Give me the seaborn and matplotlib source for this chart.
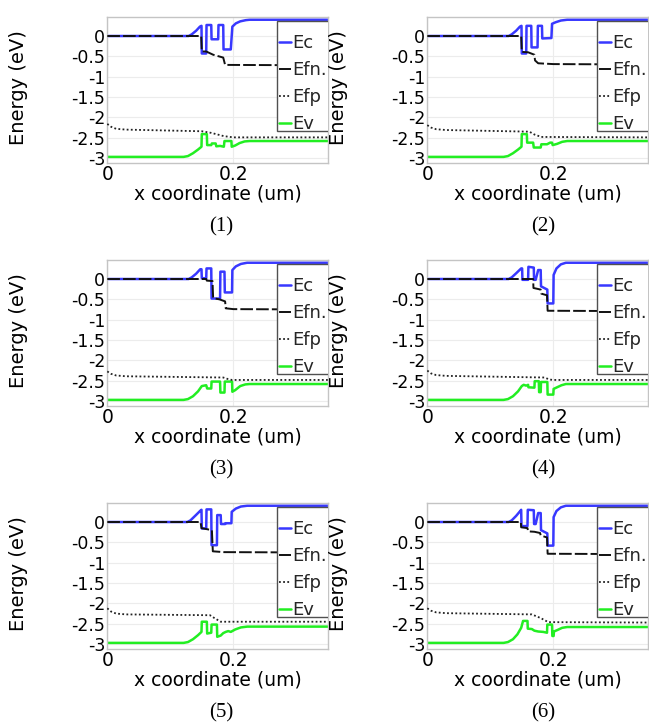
import matplotlib
matplotlib.use("Agg")
import matplotlib.pyplot as plt
from matplotlib.patches import Rectangle
import seaborn as sns

# ---------------- data (x in um, energy in eV) ----------------
LEGEND_LABELS = ["Ec", "Efn.", "Efp", "Ev"]
CAPTIONS = ["(1)", "(2)", "(3)", "(4)", "(5)", "(6)"]
XTICKS = [0, 0.2]
XTICK_LABELS = ["0", "0.2"]
YTICKS = [0, -0.5, -1, -1.5, -2, -2.5, -3]
YTICK_LABELS = ["0", "-0.5", "-1", "-1.5", "-2", "-2.5", "-3"]

EC1 = [(0, 0), (0.129, 0), (0.134, 0.04), (0.141, 0.13), (0.147, 0.23), (0.1495, 0.25), (0.150, -0.43),
       (0.157, -0.43), (0.1575, 0.27), (0.165, 0.27), (0.1655, -0.08), (0.176, -0.08), (0.1765, 0.27),
       (0.184, 0.27), (0.1845, -0.33), (0.196, -0.33), (0.1985, 0.23), (0.204, 0.31), (0.211, 0.36),
       (0.220, 0.39), (0.226, 0.40), (0.35, 0.40)]
EFN1 = [(0, 0), (0.149, 0), (0.150, -0.38), (0.157, -0.38), (0.168, -0.46), (0.184, -0.53), (0.187, -0.71),
        (0.35, -0.72)]
EFP1 = [(0, -2.16), (0.006, -2.23), (0.014, -2.28), (0.03, -2.30), (0.15, -2.34), (0.165, -2.38),
        (0.185, -2.46), (0.20, -2.49), (0.35, -2.49)]
EV1 = [(0, -2.97), (0.121, -2.97), (0.128, -2.95), (0.136, -2.88), (0.144, -2.79), (0.1495, -2.72),
       (0.150, -2.41), (0.158, -2.41), (0.1585, -2.68), (0.165, -2.68), (0.166, -2.64), (0.172, -2.64),
       (0.173, -2.71), (0.179, -2.70), (0.185, -2.72), (0.186, -2.58), (0.197, -2.58), (0.1975, -2.72),
       (0.203, -2.69), (0.210, -2.63), (0.218, -2.59), (0.226, -2.58), (0.35, -2.58)]

EC2 = [(0, 0), (0.129, 0), (0.134, 0.04), (0.141, 0.13), (0.147, 0.23), (0.1495, 0.25), (0.150, -0.43),
       (0.157, -0.43), (0.1575, 0.25), (0.165, 0.25), (0.1655, -0.28), (0.175, -0.28), (0.1755, 0.25),
       (0.182, 0.25), (0.1825, -0.06), (0.197, -0.05), (0.198, 0.30), (0.204, 0.34), (0.212, 0.38),
       (0.222, 0.40), (0.35, 0.40)]
EFN2 = [(0, 0), (0.149, 0), (0.150, -0.39), (0.160, -0.40), (0.170, -0.46), (0.171, -0.60), (0.176, -0.67),
        (0.20, -0.69), (0.35, -0.70)]
EFP2 = [(0, -2.19), (0.006, -2.25), (0.014, -2.29), (0.03, -2.31), (0.162, -2.35), (0.170, -2.42),
        (0.181, -2.48), (0.35, -2.49)]
EV2 = [(0, -2.97), (0.121, -2.97), (0.128, -2.95), (0.136, -2.88), (0.144, -2.79), (0.1495, -2.72),
       (0.150, -2.41), (0.158, -2.41), (0.1585, -2.62), (0.168, -2.62), (0.169, -2.74), (0.180, -2.74),
       (0.181, -2.66), (0.190, -2.66), (0.195, -2.62), (0.198, -2.62), (0.199, -2.68), (0.206, -2.65),
       (0.214, -2.60), (0.222, -2.58), (0.35, -2.58)]

EC3 = [(0, 0), (0.129, 0), (0.134, 0.04), (0.141, 0.13), (0.1475, 0.24), (0.1495, 0.24), (0.150, 0.02),
       (0.157, 0.02), (0.1575, 0.26), (0.165, 0.26), (0.1655, -0.48), (0.179, -0.48), (0.1795, 0.18),
       (0.186, 0.18), (0.1865, -0.33), (0.198, -0.33), (0.1985, 0.22), (0.204, 0.31), (0.212, 0.37),
       (0.222, 0.40), (0.35, 0.40)]
EFN3 = [(0, 0), (0.157, 0), (0.158, -0.04), (0.167, -0.05), (0.168, -0.47), (0.178, -0.50), (0.187, -0.55),
        (0.188, -0.72), (0.20, -0.74), (0.35, -0.75)]
EFP3 = [(0, -2.27), (0.006, -2.33), (0.014, -2.37), (0.03, -2.39), (0.184, -2.42), (0.192, -2.46),
        (0.198, -2.48), (0.35, -2.48)]
EV3 = [(0, -2.97), (0.121, -2.97), (0.128, -2.95), (0.136, -2.88), (0.144, -2.76), (0.150, -2.63),
       (0.157, -2.61), (0.1585, -2.69), (0.165, -2.69), (0.1655, -2.52), (0.179, -2.52), (0.1795, -2.79),
       (0.186, -2.79), (0.1865, -2.52), (0.198, -2.52), (0.1985, -2.77), (0.203, -2.73), (0.211, -2.63),
       (0.219, -2.59), (0.226, -2.58), (0.35, -2.58)]

EC4 = [(0, 0), (0.129, 0), (0.134, 0.04), (0.141, 0.14), (0.149, 0.26), (0.1505, 0.26), (0.151, -0.02),
       (0.160, -0.02), (0.1605, 0.30), (0.169, 0.28), (0.1695, -0.02), (0.172, -0.02), (0.176, 0.22),
       (0.180, 0.22), (0.1805, -0.18), (0.1905, -0.26), (0.191, -0.60), (0.200, -0.60), (0.2005, 0.10),
       (0.205, 0.26), (0.212, 0.36), (0.220, 0.40), (0.35, 0.40)]
EFN4 = [(0, 0), (0.168, 0), (0.1685, -0.22), (0.180, -0.26), (0.181, -0.36), (0.190, -0.40), (0.191, -0.78),
        (0.35, -0.79)]
EFP4 = [(0, -2.25), (0.006, -2.32), (0.014, -2.36), (0.03, -2.38), (0.186, -2.42), (0.194, -2.47),
        (0.200, -2.48), (0.35, -2.48)]
EV4 = [(0, -2.97), (0.121, -2.97), (0.128, -2.95), (0.136, -2.88), (0.144, -2.76), (0.150, -2.63),
       (0.153, -2.60), (0.157, -2.62), (0.160, -2.60), (0.1605, -2.66), (0.170, -2.67), (0.1705, -2.51),
       (0.177, -2.51), (0.1775, -2.78), (0.180, -2.78), (0.1805, -2.53), (0.1905, -2.53), (0.191, -2.84),
       (0.200, -2.84), (0.2005, -2.70), (0.206, -2.66), (0.213, -2.61), (0.220, -2.58), (0.35, -2.58)]

EC5 = [(0, 0), (0.127, 0), (0.132, 0.04), (0.140, 0.16), (0.1485, 0.29), (0.1495, 0.30), (0.150, -0.16),
       (0.157, -0.16), (0.1575, 0.31), (0.165, 0.31), (0.1655, -0.57), (0.174, -0.57), (0.1745, 0.17),
       (0.180, 0.17), (0.1805, -0.05), (0.187, -0.05), (0.1875, -0.03), (0.197, -0.03), (0.1975, 0.25),
       (0.204, 0.33), (0.212, 0.38), (0.222, 0.40), (0.35, 0.40)]
EFN5 = [(0, 0), (0.148, 0), (0.1495, -0.15), (0.166, -0.20), (0.1675, -0.72), (0.185, -0.74), (0.35, -0.75)]
EFP5 = [(0, -2.12), (0.006, -2.20), (0.014, -2.25), (0.03, -2.27), (0.163, -2.29), (0.170, -2.36),
        (0.180, -2.45), (0.35, -2.45)]
EV5 = [(0, -2.97), (0.121, -2.97), (0.128, -2.95), (0.136, -2.88), (0.144, -2.78), (0.1495, -2.70),
       (0.150, -2.45), (0.158, -2.45), (0.1585, -2.74), (0.165, -2.72), (0.1655, -2.52), (0.174, -2.52),
       (0.1745, -2.82), (0.180, -2.79), (0.184, -2.73), (0.188, -2.70), (0.192, -2.68), (0.196, -2.70),
       (0.203, -2.64), (0.212, -2.59), (0.222, -2.57), (0.35, -2.57)]

EC6 = [(0, 0), (0.129, 0), (0.134, 0.04), (0.141, 0.15), (0.148, 0.28), (0.149, 0.30), (0.1495, -0.10),
       (0.159, -0.10), (0.1595, 0.30), (0.169, 0.29), (0.1695, -0.05), (0.172, -0.05), (0.176, 0.22),
       (0.180, 0.22), (0.1805, -0.20), (0.1905, -0.28), (0.191, -0.58), (0.200, -0.58), (0.2005, 0.12),
       (0.205, 0.27), (0.212, 0.36), (0.220, 0.40), (0.35, 0.40)]
EFN6 = [(0, 0), (0.1485, 0), (0.149, -0.13), (0.159, -0.15), (0.160, -0.23), (0.170, -0.24), (0.179, -0.27),
        (0.180, -0.33), (0.190, -0.38), (0.191, -0.78), (0.35, -0.79)]
EFP6 = [(0, -2.12), (0.006, -2.18), (0.014, -2.22), (0.03, -2.24), (0.166, -2.27), (0.180, -2.36),
        (0.192, -2.46), (0.35, -2.47)]
EV6 = [(0, -2.97), (0.121, -2.97), (0.128, -2.95), (0.136, -2.88), (0.143, -2.76), (0.149, -2.60),
       (0.152, -2.43), (0.159, -2.43), (0.1595, -2.62), (0.166, -2.63), (0.170, -2.67), (0.176, -2.69),
       (0.184, -2.70), (0.190, -2.72), (0.1905, -2.52), (0.198, -2.52), (0.1985, -2.80), (0.2005, -2.80),
       (0.201, -2.69), (0.207, -2.65), (0.214, -2.60), (0.222, -2.58), (0.35, -2.58)]

PANELS = [(EC1, EFN1, EFP1, EV1), (EC2, EFN2, EFP2, EV2), (EC3, EFN3, EFP3, EV3),
          (EC4, EFN4, EFP4, EV4), (EC5, EFN5, EFP5, EV5), (EC6, EFN6, EFP6, EV6)]

# ---------------- styling ----------------
sns.set_theme(style="whitegrid")
plt.rcParams["font.family"] = ["DejaVu Sans"]
plt.rcParams["axes.unicode_minus"] = False

STYLES = [
    dict(color="#3838ff", linestyle="-", linewidth=1.8, zorder=2),
    dict(color="#111111", linestyle=(0, (6.5, 1.6)), linewidth=1.4, zorder=4),
    dict(color="#222222", linestyle=(0, (1, 1.3)), linewidth=1.3, zorder=3),
    dict(color="#22ee22", linestyle="-", linewidth=1.8, zorder=2),
]

W, H = 649, 727
fig = plt.figure(figsize=(W / 100, H / 100), dpi=100)
fig.patch.set_facecolor("white")

AX_W, AX_H = 220.5, 146.0
AX_L0, AX_T0 = 107.3, 17.0


def to_ax(px, py):
    return (px - AX_L0) / AX_W, 1 - (py - AX_T0) / AX_H


for i, curves in enumerate(PANELS):
    r, c = divmod(i, 2)
    left = AX_L0 + 320 * c
    top = AX_T0 + 243 * r
    ax = fig.add_axes([left / W, 1 - (top + AX_H) / H, AX_W / W, AX_H / H])
    ax.set_facecolor("white")
    for pts, lab, st in zip(curves, LEGEND_LABELS, STYLES):
        xs = [p[0] for p in pts]
        ys = [p[1] for p in pts]
        sns.lineplot(x=xs, y=ys, ax=ax, sort=False, estimator=None, label=lab, **st)
    ax.set_xlim(0, 0.35)
    ax.set_ylim(-3.12, 0.467)
    ax.set_xticks(XTICKS)
    ax.set_xticklabels(XTICK_LABELS)
    ax.set_yticks(YTICKS)
    ax.set_yticklabels(YTICK_LABELS)
    ax.tick_params(axis="both", length=0, labelcolor="black")
    ax.tick_params(axis="y", pad=1.5, labelsize=12.5)
    ax.tick_params(axis="x", pad=1.8, labelsize=13.5)
    ax.grid(True, color="#ececec", linewidth=0.8)
    for s in ax.spines.values():
        s.set_color("#c4c4c4")
        s.set_linewidth(1.0)
    ax.set_ylabel("Energy (eV)", fontsize=14, color="black")
    ax.yaxis.set_label_coords(-0.359, 0.52)
    ax.set_xlabel("x coordinate (um)", fontsize=13.5, color="black")
    ax.xaxis.set_label_coords(0.5, -0.144)

    # legend frame (clipped at the axes' right edge, as in the reference)
    fx0, fy0 = to_ax(277, 131)
    fx1, fy1 = to_ax(340, 21)
    frame = Rectangle((fx0, fy0), fx1 - fx0, fy1 - fy0, transform=ax.transAxes,
                      facecolor="white", edgecolor="#505050", linewidth=1.0,
                      zorder=4.8, clip_on=True)
    ax.add_patch(frame)

    handles = ax.get_lines()[:4]
    ax_x, ax_y = to_ax(279, 34)
    leg = ax.legend(handles=handles, labels=LEGEND_LABELS, loc="upper left",
                    bbox_to_anchor=(ax_x, ax_y), borderaxespad=0, borderpad=0,
                    frameon=False, handlelength=0.65, handletextpad=0.1,
                    labelspacing=0.5, fontsize=13)
    leg.set_zorder(5)

    fig.text((221 + 322 * c) / W, 1 - (227 + 243 * r) / H, CAPTIONS[i],
             family=["Liberation Serif", "DejaVu Serif"], fontsize=15,
             ha="center", va="center", color="black")

fig.savefig("out.png", dpi=100, facecolor="white")
